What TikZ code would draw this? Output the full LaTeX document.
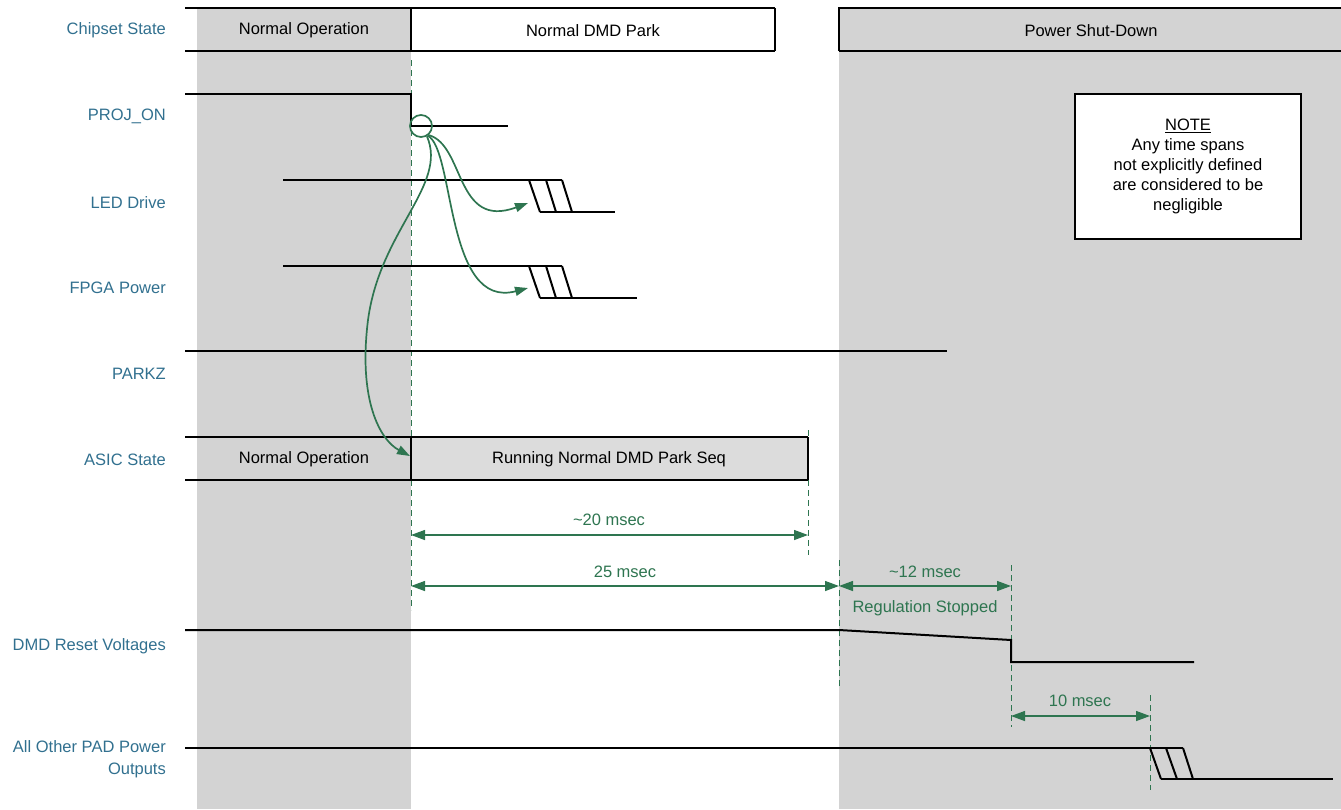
\documentclass[tikz,border=0pt]{standalone}
\usepackage{fontspec}
\setmainfont{Liberation Sans}
\usetikzlibrary{arrows.meta}
\definecolor{lbl}{HTML}{31708F}
\definecolor{grn}{HTML}{2E7550}
\definecolor{reg}{HTML}{D3D3D3}
\definecolor{boxg}{HTML}{DCDCDC}
\newcommand\dfont{\fontsize{16.5}{20}\selectfont}
\begin{document}
\begin{tikzpicture}[x=1pt,y=-1pt,
  sig/.style={line width=2pt,black},
  lab/.style={text=lbl,anchor=east,font=\dfont,align=right,inner sep=0pt,yshift=-1.5pt},
  txt/.style={font=\dfont,inner sep=0pt,yshift=-1.5pt},
  gtxt/.style={font=\dfont,text=grn,inner sep=0pt,yshift=-1.5pt},
  dimarrow/.style={grn,line width=1.3pt,{Triangle[length=14pt,width=10pt]}-{Triangle[length=14pt,width=10pt]}},
  gdash/.style={grn,line width=1pt,dash pattern=on 6pt off 4pt},
  curv/.style={grn,line width=1.7pt,-{Triangle[length=13pt,width=9pt]}}]
\useasboundingbox (0,0) rectangle (1341,809);
% shaded regions
\fill[reg] (197,8) rectangle (411,809);
\fill[reg] (839,8) rectangle (1341,809);
\fill[boxg] (411,437) rectangle (808,480);
% labels
\node[lab] (l1) at (166,29) {Chipset State};
\node[lab] (l2) at (166,115) {PROJ\_ON};
\node[lab] (l3) at (166,201) {LED Drive};
\node[lab] (l4) at (166,286) {FPGA Power};
\node[lab] (l5) at (166,372) {PARKZ};
\node[lab] (l6) at (166,458) {ASIC State};
\node[lab] (l7) at (166,645) {DMD Reset Voltages};
\node[lab,font=\fontsize{16.5}{22}\selectfont] (l8) at (166,758) {All Other PAD Power\\Outputs};
% chipset state row
\draw[sig] (185,8) -- (775,8);
\draw[sig] (185,51) -- (775,51);
\draw[sig] (411,8) -- (411,51);
\draw[sig] (775,8) -- (775,51);
\draw[sig] (839,51) -- (839,8) -- (1341,8);
\draw[sig] (839,51) -- (1341,51);
\node[txt] (cs1) at (304,29) {Normal Operation};
\node[txt] (cs2) at (593,29) {Normal DMD Park};
\node[txt] (cs3) at (1091,29) {Power Shut-Down};
% note
\node[draw=black,line width=1.5pt,fill=white,minimum width=226pt,minimum height=145pt,
  align=center,font=\fontsize{16.5}{20}\selectfont] (note) at (1188,166.5)
  {\underline{NOTE}\\Any time spans\\not explicitly defined\\are considered to be\\negligible};
% dashed markers
\draw[gdash] (411,60) -- (411,610);
\draw[gdash] (808,430) -- (808,555);
\draw[gdash] (839,560) -- (839,686);
\draw[gdash] (1011,565) -- (1011,727);
\draw[gdash] (1150,695) -- (1150,790);
% PROJ_ON
\draw[sig] (185,94) -- (411,94) -- (411,126) -- (508,126);
\node[circle,draw=grn,line width=1.7pt,minimum size=22pt,inner sep=0pt] (c) at (421,126) {};
% LED Drive
\draw[sig] (283,180) -- (562,180);
\draw[sig] (529,180) -- (540,212);
\draw[sig] (546,180) -- (556,212);
\draw[sig] (562,180) -- (572,212);
\draw[sig] (540,212) -- (615,212);
% FPGA Power
\draw[sig] (283,266) -- (562,266);
\draw[sig] (529,266) -- (540,298);
\draw[sig] (546,266) -- (556,298);
\draw[sig] (562,266) -- (572,298);
\draw[sig] (540,298) -- (637,298);
% PARKZ
\draw[sig] (185,351) -- (947,351);
% ASIC state
\draw[sig] (185,437) -- (808,437);
\draw[sig] (185,480) -- (808,480);
\draw[sig] (411,437) -- (411,480);
\draw[sig] (808,437) -- (808,480);
\node[txt] (as1) at (304,458) {Normal Operation};
\node[txt] (as2) at (609,458) {Running Normal DMD Park Seq};
% causal curves
\coordinate (ledT) at (528,203);
\coordinate (fpgaT) at (528,288);
\coordinate (asicT) at (410,456);
\draw[curv] (c.-50) .. controls (465,145) and (455,230) .. (ledT);
\draw[curv] (c.-55) .. controls (455,150) and (445,310) .. (fpgaT);
\draw[curv] (c.-60) .. controls (448,185) and (380,230) .. (368,320) .. controls (358,400) and (380,440) .. (asicT);
% DMD reset voltages
\draw[sig] (185,630) -- (839,630) -- (1011,640) -- (1011,662) -- (1194,662);
% All other PAD
\draw[sig] (185,748) -- (1183,748);
\draw[sig] (1150,748) -- (1161,779);
\draw[sig] (1166,748) -- (1177,779);
\draw[sig] (1183,748) -- (1193,779);
\draw[sig] (1161,779) -- (1333,779);
% dimensions
\coordinate (d1a) at (411,535); \coordinate (d1b) at (808,535);
\coordinate (d2a) at (411,586); \coordinate (d2b) at (839,586);
\coordinate (d3a) at (839,586); \coordinate (d3b) at (1011,586);
\coordinate (d4a) at (1011,716); \coordinate (d4b) at (1150,716);
\draw[dimarrow] (d1a) -- (d1b);
\draw[dimarrow] (d2a) -- (d2b);
\draw[dimarrow] (d3a) -- (d3b);
\draw[dimarrow] (d4a) -- (d4b);
\node[gtxt] (t1) at (609,518) {\textasciitilde20 msec};
\node[gtxt] (t2) at (625,570) {25 msec};
\node[gtxt] (t3) at (925,570) {\textasciitilde12 msec};
\node[gtxt] (t4) at (925,607) {Regulation Stopped};
\node[gtxt] (t5) at (1080,699) {10 msec};
\end{tikzpicture}
\end{document}
